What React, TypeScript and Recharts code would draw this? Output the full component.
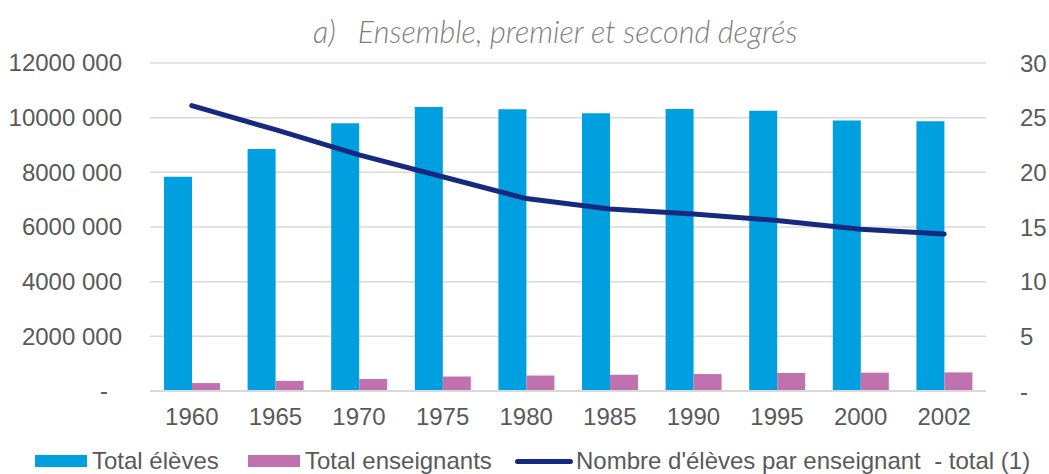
import React from 'react';
import {
  ComposedChart,
  Bar,
  Line,
  XAxis,
  YAxis,
  CartesianGrid,
} from 'recharts';

const years = ['1960', '1965', '1970', '1975', '1980', '1985', '1990', '1995', '2000', '2002'];
const totalEleves = [7840000, 8850000, 9800000, 10390000, 10310000, 10160000, 10320000, 10250000, 9900000, 9870000];
const totalEnseignants = [290000, 370000, 440000, 530000, 565000, 595000, 620000, 660000, 670000, 680000];
const elevesParEnseignant = [26.1, 23.9, 21.6, 19.6, 17.6, 16.65, 16.2, 15.6, 14.8, 14.35];

const leftTicks = [0, 2000000, 4000000, 6000000, 8000000, 10000000, 12000000];
const rightTicks = [0, 5, 10, 15, 20, 25, 30];

const data = years.map((year, i) => ({
  year,
  eleves: totalEleves[i],
  enseignants: totalEnseignants[i],
  ratio: elevesParEnseignant[i],
}));

const BLUE = '#009fdf';
const PINK = '#bf72ad';
const NAVY = '#16297f';
const TEXT = '#595959';
const GRID = '#d9d9d9';
const FONT = '"Liberation Sans", Arial, sans-serif';

const LeftTick = (props: any) => {
  const { x, y, payload } = props;
  const v = payload.value as number;
  const label = v === 0 ? '-' : `${v / 1000} 000`;
  return (
    <text
      x={v === 0 ? x - 14 : x}
      y={y}
      dy="0.35em"
      textAnchor="end"
      fill={TEXT}
      fontSize={24}
      fontFamily={FONT}
    >
      {label}
    </text>
  );
};

const legendItems = [
  { label: 'Total élèves', color: BLUE, kind: 'box', left: 35 },
  { label: 'Total enseignants', color: PINK, kind: 'box', left: 248 },
  { label: "Nombre d'élèves par enseignant\u00a0\u00a0- total (1)", color: NAVY, kind: 'line', left: 515 },
];

export default function App() {
  return (
    <div
      style={{
        position: 'absolute',
        left: 0,
        top: 0,
        width: 1049,
        height: 474,
        background: '#fff',
        fontFamily: FONT,
      }}
    >
      <div
        style={{
          position: 'absolute',
          left: 313,
          top: 11,
          fontFamily: 'Lato, "Open Sans", sans-serif',
          fontStyle: 'italic',
          fontWeight: 300,
          fontSize: 30.5,
          color: '#7f7f7f',
          whiteSpace: 'nowrap',
          lineHeight: '40px',
        }}
      >
        <span>a)</span>
        <span style={{ marginLeft: 22 }}>Ensemble, premier et second degrés</span>
      </div>

      <ComposedChart
        width={1049}
        height={474}
        data={data}
        margin={{ top: 63, right: 0, bottom: 43, left: 0 }}
        barGap={0}
      >
        <CartesianGrid
          yAxisId="left"
          vertical={false}
          stroke={GRID}
          strokeWidth={1.5}
        />
        <XAxis
          dataKey="year"
          height={40}
          tickLine={false}
          tickSize={0}
          tickMargin={17}
          axisLine={{ stroke: GRID, strokeWidth: 2 }}
          tick={{ fill: TEXT, fontSize: 24, fontFamily: FONT }}
          interval={0}
        />
        <YAxis
          yAxisId="left"
          orientation="left"
          width={150}
          domain={[0, 12000000]}
          ticks={leftTicks}
          axisLine={false}
          tickLine={false}
          tickSize={0}
          tickMargin={28}
          tick={<LeftTick />}
        />
        <YAxis
          yAxisId="right"
          orientation="right"
          width={63}
          domain={[0, 30]}
          ticks={rightTicks}
          axisLine={false}
          tickLine={false}
          tickSize={0}
          tickMargin={34}
          tickFormatter={(v: number) => (v === 0 ? '-' : String(v))}
          tick={{ fill: TEXT, fontSize: 24, fontFamily: FONT }}
        />
        <Bar
          yAxisId="left"
          dataKey="eleves"
          name="Total élèves"
          fill={BLUE}
          barSize={28}
          isAnimationActive={false}
        />
        <Bar
          yAxisId="left"
          dataKey="enseignants"
          name="Total enseignants"
          fill={PINK}
          barSize={28}
          isAnimationActive={false}
        />
        <Line
          yAxisId="right"
          type="linear"
          dataKey="ratio"
          name="Nombre d'élèves par enseignant - total (1)"
          stroke={NAVY}
          strokeWidth={5}
          strokeLinecap="round"
          strokeLinejoin="round"
          dot={false}
          activeDot={false}
          isAnimationActive={false}
        />
      </ComposedChart>

      {legendItems.map((item) => (
        <div
          key={item.label}
          style={{
            position: 'absolute',
            left: item.left,
            top: 447,
            height: 28,
            display: 'flex',
            alignItems: 'center',
            whiteSpace: 'nowrap',
            fontSize: 24,
            color: TEXT,
          }}
        >
          {item.kind === 'box' ? (
            <span style={{ display: 'inline-block', width: 52, height: 12, background: item.color, marginRight: 5 }} />
          ) : (
            <span style={{ display: 'inline-block', width: 58, height: 5, borderRadius: 3, background: item.color, marginRight: 3 }} />
          )}
          <span>{item.label}</span>
        </div>
      ))}
    </div>
  );
}
